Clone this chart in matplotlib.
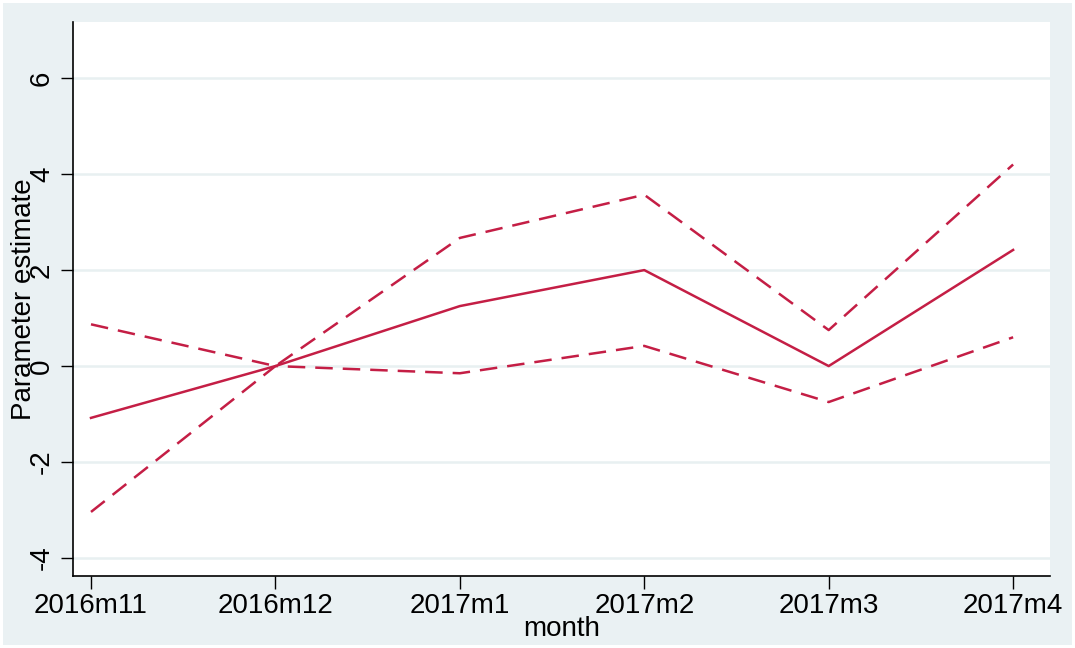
import matplotlib
matplotlib.use("Agg")
import matplotlib.pyplot as plt
from matplotlib.patches import Rectangle

months = ["2016m11", "2016m12", "2017m1", "2017m2", "2017m3", "2017m4"]
estimate = [-1.08, 0.0, 1.25, 2.0, 0.0, 2.42]
upper_ci = [0.87, 0.0, 2.67, 3.57, 0.75, 4.2]
lower_ci = [-3.04, 0.0, -0.15, 0.42, -0.75, 0.6]
yticks = [-4, -2, 0, 2, 4, 6]

plt.rcParams['font.family'] = ['Liberation Sans', 'DejaVu Sans']

line_col = "#C41E45"
bg_col = "#EAF1F3"
grid_col = "#E8F0F1"

fig = plt.figure(figsize=(10.75, 6.48), dpi=100, facecolor="white")
# stata style outer region, behind the axes
fig.patches.append(Rectangle((3/1075, 3/648), 1069/1075, 642/648,
                             transform=fig.transFigure, facecolor=bg_col,
                             edgecolor="none", zorder=-5))

ax = fig.add_axes([73/1075, 72/648, 977/1075, 554/648])
ax.set_zorder(2)
ax.set_facecolor("white")

x = list(range(len(months)))
for yv in yticks:
    ax.axhline(yv, color=grid_col, linewidth=1.8, zorder=1)

ax.plot(x, estimate, color=line_col, linewidth=1.8, zorder=3)
ax.plot(x, upper_ci, color=line_col, linewidth=1.8, linestyle=(0, (7, 4)), zorder=3)
ax.plot(x, lower_ci, color=line_col, linewidth=1.8, linestyle=(0, (7, 4)), zorder=3)

ax.set_xlim(-0.0976, 5.2)
ax.set_ylim(-4.375, 7.17)
ax.set_xticks(x)
ax.set_xticklabels(months)
ax.set_yticks(yticks)
ax.set_yticklabels([str(v) for v in yticks], rotation=90, va="center")

ax.spines['top'].set_visible(False)
ax.spines['right'].set_visible(False)
ax.spines['left'].set_linewidth(1.2)
ax.spines['bottom'].set_linewidth(1.2)
ax.tick_params(axis='both', length=9, width=1.0, labelsize=20, color="black")
ax.tick_params(axis='x', pad=3)
ax.tick_params(axis='y', pad=4)

ax.set_xlabel("month", fontsize=20, labelpad=-2)
ax.set_ylabel("Parameter estimate", fontsize=20)
ax.yaxis.set_label_coords(-0.037, 0.5)

fig.savefig("out.png", dpi=100, facecolor=fig.get_facecolor())
